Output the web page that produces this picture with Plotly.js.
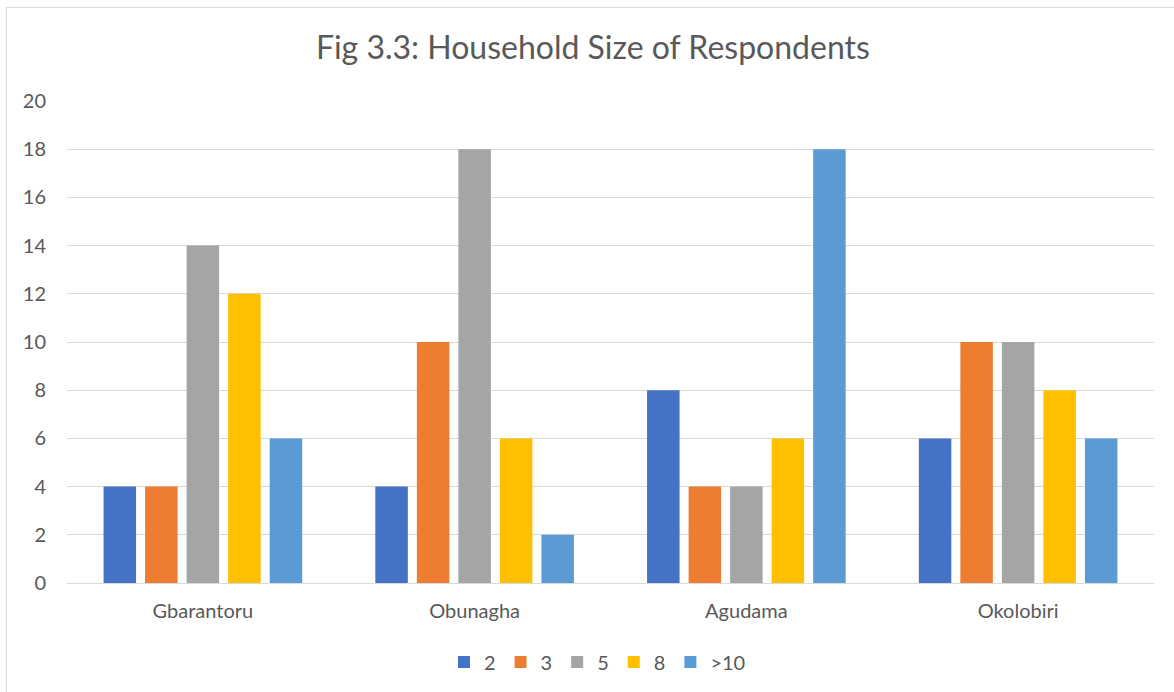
<!DOCTYPE html>
<html><head><meta charset="utf-8">
<script src="https://cdn.plot.ly/plotly-3.0.1.min.js"></script>
<style>
html,body{margin:0;padding:0;background:#fff;overflow:hidden;}
#frame{position:absolute;left:6px;top:7px;width:1200px;height:700px;border-left:1px solid #d9d9d9;border-top:1px solid #d9d9d9;pointer-events:none;}
#chart{position:absolute;left:0;top:0;width:1174px;height:692px;}
</style></head>
<body>
<div id="chart"></div>
<div id="frame"></div>
<script>
var categories = ["Gbarantoru", "Obunagha", "Agudama", "Okolobiri"];
var seriesNames = ["2", "3", "5", "8", ">10"];
var s2 = [4, 4, 8, 6];
var s3 = [4, 10, 4, 10];
var s5 = [14, 18, 4, 10];
var s8 = [12, 6, 6, 8];
var s10 = [6, 2, 18, 6];
var colors = ["#4472C4", "#ED7D31", "#A5A5A5", "#FFC000", "#5B9BD5"];
var yTicks = [0, 2, 4, 6, 8, 10, 12, 14, 16, 18, 20];

var all = [s2, s3, s5, s8, s10];
var traces = all.map(function(v, i){
  return {type:'bar', x:categories, y:v, name:seriesNames[i], marker:{color:colors[i]}};
});
var layout = {
  width:1174, height:692,
  margin:{l:67, r:20, t:101, b:109},
  paper_bgcolor:'rgba(0,0,0,0)', plot_bgcolor:'#fff',
  font:{family:'Lato, "Open Sans", sans-serif', color:'#595959', size:20},
  title:{text:'Fig 3.3: Household Size of Respondents', font:{size:32, color:'#595959'},
         x:0.505, xref:'container', xanchor:'center', y:1-48/692, yref:'container', yanchor:'middle'},
  barmode:'group', bargap:0.236, bargroupgap:0.217,
  xaxis:{showgrid:false, showline:true, linecolor:'#d9d9d9', linewidth:1, ticks:'', tickfont:{size:20, color:'#595959'}, ticklabelstandoff:10},
  yaxis:{range:[0,20], tickvals:yTicks, showgrid:true, gridcolor:'#d9d9d9', gridwidth:1, zeroline:false,
         ticks:'', tickfont:{size:20, color:'#595959'}, ticklabelstandoff:20},
  showlegend:true,
  legend:{orientation:'h', x:0.488, xanchor:'center', y:1-662/692, yref:'container', yanchor:'middle',
          font:{size:20, color:'#595959'}, itemwidth:30, traceorder:'normal'}
};
Plotly.newPlot('chart', traces, layout, {displayModeBar:false, staticPlot:true});
</script>
</body></html>
